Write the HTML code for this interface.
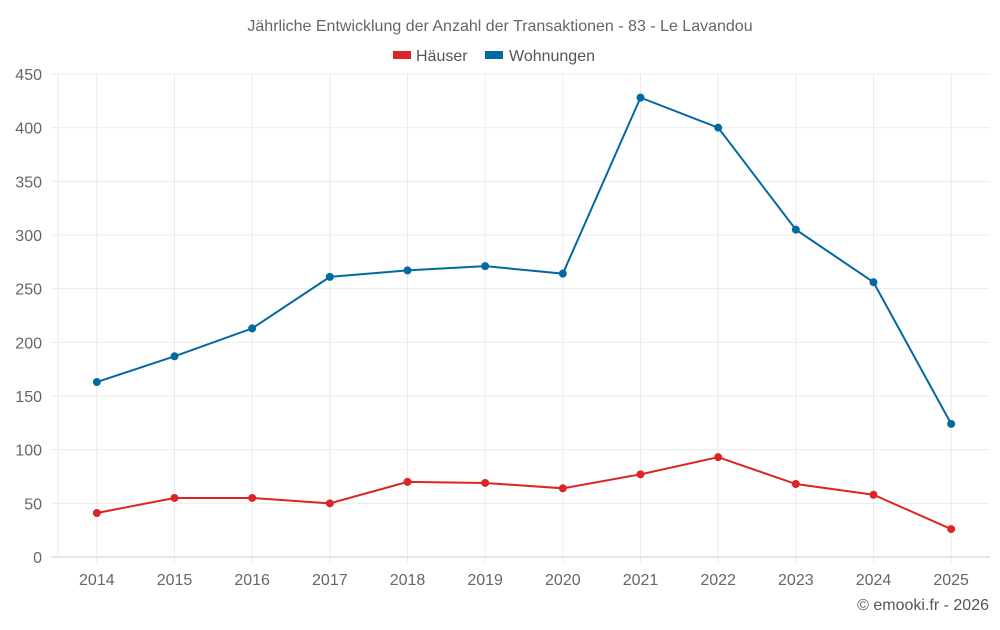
<!DOCTYPE html>
<html><head><meta charset="utf-8"><style>
body{margin:0;background:#fff;font-family:"Liberation Sans",sans-serif}
</style></head><body>
<svg id="c" width="1000" height="625" xmlns="http://www.w3.org/2000/svg" font-family="Liberation Sans, sans-serif">
<text x="500" y="31" text-anchor="middle" font-size="16" fill="#666">Jährliche Entwicklung der Anzahl der Transaktionen - 83 - Le Lavandou</text>
<g><rect x="393" y="51" width="18" height="8" fill="#dc2626"/><text x="416" y="61" font-size="16" fill="#555">Häuser</text></g>
<g><rect x="485" y="51" width="18" height="8" fill="#0369a1"/><text x="509" y="61" font-size="16" fill="#555">Wohnungen</text></g>
<g id="grid"></g><g id="marks"></g>
<text x="989" y="610" text-anchor="end" font-size="16" fill="#555">© emooki.fr - 2026</text>
</svg>
<script>
const years=[2014,2015,2016,2017,2018,2019,2020,2021,2022,2023,2024,2025];
const wohnungen=[163,187,213,261,267,271,264,428,400,305,256,124];
const haeuser=[41,55,55,50,70,69,64,77,93,68,58,26];
const yTicks=[0,50,100,150,200,250,300,350,400,450];
const L=58,R=990,T=74,B=557,yMax=450;
const step=(R-L)/years.length;
const x=i=>L+step*(i+0.5);
const y=v=>B-(v/yMax)*(B-T);
const ns="http://www.w3.org/2000/svg";
const grid=document.getElementById('grid'),marks=document.getElementById('marks');
function mk(tag,a,p){const e=document.createElementNS(ns,tag);for(const k in a)e.setAttribute(k,a[k]);p.appendChild(e);return e;}
yTicks.forEach(t=>{
 const l=mk('line',{x1:51,x2:R,y1:y(t),y2:y(t),stroke:t===0?'#ccc':'#ebebeb'},grid);
 
 
 const tx=mk('text',{x:42,y:y(t)+6,'text-anchor':'end','font-size':16,fill:'#666'},grid);tx.textContent=t;
 
 
});
const ax=mk('line',{x1:L,x2:L,y1:T,y2:B,stroke:'#ebebeb'},grid);


years.forEach((yr,i)=>{
 const l=mk('line',{x1:x(i),x2:x(i),y1:T,y2:B+6,stroke:'#ebebeb'},grid);
 
 
 const tx=mk('text',{x:x(i),y:585,'text-anchor':'middle','font-size':16,fill:'#666'},grid);tx.textContent=yr;
 
 
});
function series(vals,color,name){
 const p=mk('polyline',{points:vals.map((v,i)=>x(i)+','+y(v)).join(' '),fill:'none',stroke:color,'stroke-width':2},marks);
 
 
 vals.forEach((v,i)=>{
  const c=mk('circle',{cx:x(i),cy:y(v),r:4,fill:color},marks);
  
  
 });
}
series(wohnungen,'#0369a1','wohnungen');
series(haeuser,'#dc2626','haeuser');
</script>
</body></html>
